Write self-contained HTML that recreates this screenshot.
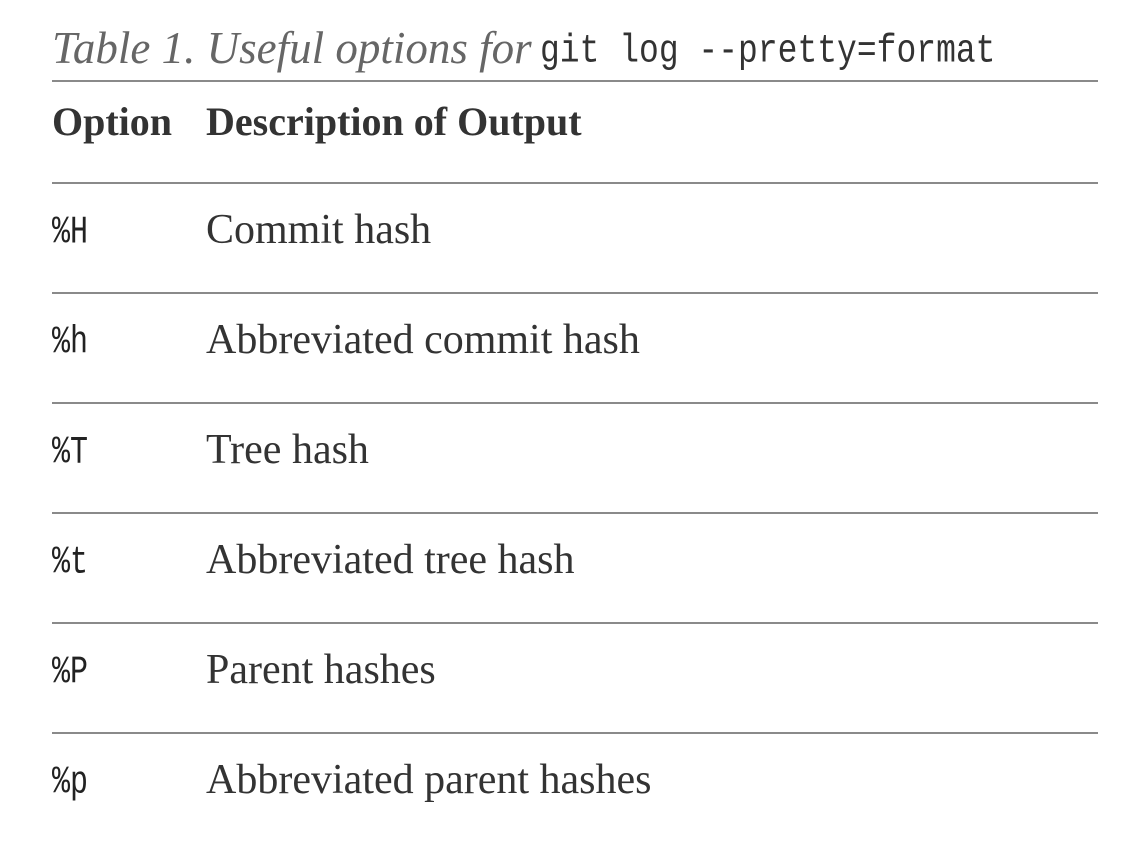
<!DOCTYPE html>
<html><head><meta charset="utf-8"><style>
html,body{margin:0;padding:0;background:#fff;width:1122px;height:846px;overflow:hidden}
.a{position:absolute;white-space:nowrap}
.line{position:absolute;left:52px;width:1046px;height:2px;background:#8a8a8a}
.ser{font-family:"Liberation Serif",serif;color:#333}
.mono{font-family:"Liberation Mono",monospace;color:#222}
.t{font-size:42px;line-height:1}
.m{font-size:30px;line-height:1;transform:scale(1,1.3);transform-origin:0 100%}
</style></head><body>
<div class="a ser" style="left:52px;top:26px;font-style:italic;font-size:45px;color:#666;line-height:1">Table 1. Useful options for</div>
<div class="a mono" style="left:540px;top:38px;font-size:33px;color:#333;line-height:1;transform:scale(1,1.2);transform-origin:0 100%">git log --pretty=format</div>
<div class="line" style="top:80px"></div>
<div class="a ser" style="left:52px;top:102px;font-size:40px;font-weight:bold;line-height:1">Option</div>
<div class="a ser" style="left:206px;top:102px;font-size:40px;font-weight:bold;line-height:1">Description of Output</div>
<div class="line" style="top:182px"></div>
<div class="a mono m" style="left:52px;top:223px">%H</div><div class="a ser t" style="left:206px;top:209px">Commit hash</div>
<div class="line" style="top:292px"></div>
<div class="a mono m" style="left:52px;top:333px">%h</div><div class="a ser t" style="left:206px;top:319px">Abbreviated commit hash</div>
<div class="line" style="top:402px"></div>
<div class="a mono m" style="left:52px;top:443px">%T</div><div class="a ser t" style="left:206px;top:429px">Tree hash</div>
<div class="line" style="top:512px"></div>
<div class="a mono m" style="left:52px;top:553px">%t</div><div class="a ser t" style="left:206px;top:539px">Abbreviated tree hash</div>
<div class="line" style="top:622px"></div>
<div class="a mono m" style="left:52px;top:663px">%P</div><div class="a ser t" style="left:206px;top:649px">Parent hashes</div>
<div class="line" style="top:732px"></div>
<div class="a mono m" style="left:52px;top:773px">%p</div><div class="a ser t" style="left:206px;top:759px">Abbreviated parent hashes</div>
</body></html>
